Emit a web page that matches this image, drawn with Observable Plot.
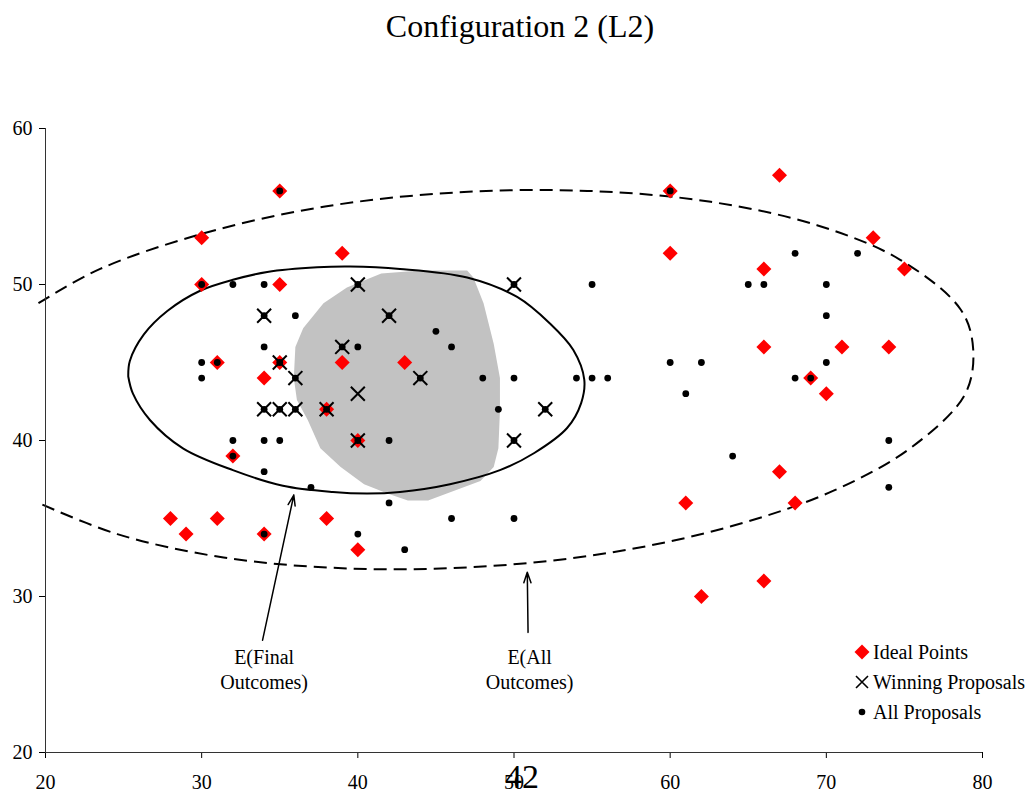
<!DOCTYPE html>
<html><head><meta charset="utf-8">
<script src="https://cdn.jsdelivr.net/npm/d3@7"></script>
<script src="https://cdn.jsdelivr.net/npm/@observablehq/plot@0.6"></script>
<style>
html,body{margin:0;padding:0;overflow:hidden;background:#fff;}
#wrap{position:relative;width:1032px;height:794px;font-family:"Liberation Serif","Times New Roman",serif;color:#000;}
#wrap svg.chart{position:absolute;left:0;top:0;}
#title{position:absolute;left:0;top:10px;width:1040px;text-align:center;font-size:32px;line-height:1;}
.lg-sym{position:absolute;width:20px;height:20px;}
.lg-txt{position:absolute;font-size:20px;line-height:20px;white-space:nowrap;}
#page{position:absolute;left:0;width:1044px;text-align:center;top:760px;font-size:34px;line-height:1;}
</style>
</head><body>
<div id="wrap"></div>
<script>
const title = "Configuration 2 (L2)";
const xTicks = [20, 30, 40, 50, 60, 70, 80];
const yTicks = [20, 30, 40, 50, 60];
const legendLabels = ["Ideal Points", "Winning Proposals", "All Proposals"];
const pageNumber = "42";

const idealPoints = [
  [35,56],[30,53],[39,52],[30,50],[35,50],[31,45],[35,45],[39,45],[43,45],[34,44],
  [38,42],[40,40],[32,39],[28,35],[29,34],[31,35],[34,34],[38,35],[40,33],
  [60,56],[67,57],[60,52],[73,53],[66,51],[75,51],[66,46],[71,46],[74,46],[69,44],
  [70,43],[67,38],[61,36],[68,36],[66,31],[62,30]
];
const winningProposals = [
  [40,50],[50,50],[34,48],[42,48],[39,46],[35,45],[36,44],[44,44],[40,43],
  [34,42],[35,42],[36,42],[38,42],[52,42],[40,40],[50,40]
];
const allProposals = [
  [35,56],[30,50],[32,50],[34,50],[40,50],[50,50],[55,50],
  [34,48],[36,48],[42,48],[34,46],[39,46],[40,46],[45,47],[46,46],
  [30,45],[31,45],[35,45],[30,44],[36,44],[44,44],[48,44],[50,44],[54,44],[55,44],[56,44],
  [34,42],[35,42],[36,42],[38,42],[49,42],[52,42],
  [32,40],[34,40],[35,40],[40,40],[42,40],[50,40],[32,39],
  [34,38],[37,37],[42,36],[34,34],[40,34],[46,35],[50,35],[43,33],
  [60,56],[68,52],[72,52],[65,50],[66,50],[70,50],[70,48],[60,45],[62,45],[70,45],
  [68,44],[69,44],[61,43],[64,39],[74,40],[74,37]
];
const finalOutcomesEllipse = [
  [25.3,44.1],[25.4,45.1],[26.3,46.8],[27.8,48.3],[29.9,49.6],[32.0,50.3],[34.2,50.8],
  [37.4,51.1],[39.5,51.15],[42.7,51.0],[47.0,50.45],[50.2,49.2],[52.3,47.5],[53.8,45.8],
  [54.5,43.9],[54.3,42.4],[53.4,40.8],[51.3,39.2],[49.1,38.1],[45.9,37.2],[42.7,36.7],
  [40.6,36.6],[38.4,36.7],[35.2,37.1],[32.0,38.1],[28.8,39.5],[26.7,41.3],[25.6,43.0],[25.3,44.1]
];
const allOutcomesEllipse = [
  [19.55,48.8],[23.5,51.0],[30.2,53.3],[37.9,55.0],[46.3,55.9],[54.7,56.0],[62.6,55.3],
  [69.4,53.8],[74.7,51.6],[78.6,48.4],[79.4,45.9],[78.9,43.0],[75.5,39.6],[70.5,36.8],
  [63.9,34.5],[56.1,32.8],[47.7,31.9],[39.3,31.8],[31.4,32.5],[24.6,34.0],[19.55,36.0]
];
const finalOutcomesRegion = [
  [37.8,48.8],[39.3,49.8],[41.5,50.7],[44.0,50.9],[47.0,50.9],[47.4,50.45],[48.05,48.8],
  [48.7,46.2],[49.1,44.0],[49.1,41.9],[49.0,39.5],[48.7,38.3],[47.85,37.4],[45.7,36.6],
  [44.5,36.15],[43.2,36.15],[41.9,36.6],[40.4,37.2],[38.9,38.3],[37.6,39.5],[36.8,41.3],
  [36.1,42.6],[35.9,44.0],[36.0,46.0],[36.5,47.2]
];
const arrowFrom = [[33.9,27.2],[50.9,27.7]];
const arrowTo = [[35.9,36.5],[50.85,31.55]];
const annotationText = ["E(Final\nOutcomes)", "E(All\nOutcomes)"];
const annotationPos = [[34,25.4],[51,25.4]];

const arrows = arrowFrom.map((f,i)=>({x1:f[0],y1:f[1],x2:arrowTo[i][0],y2:arrowTo[i][1]}));
const notes = annotationText.map((t,i)=>({text:t,x:annotationPos[i][0],y:annotationPos[i][1]}));
const X = d=>d[0], Y = d=>d[1];

const chart = Plot.plot({
  width:1032, height:794, marginTop:128, marginLeft:45, marginRight:50, marginBottom:42,
  style:{fontFamily:'"Liberation Serif","Times New Roman",serif', fontSize:"20px", color:"#000", background:"#fff", overflow:"visible"},
  x:{domain:[20,80], ticks:xTicks, tickSize:6, tickPadding:16, label:null},
  y:{domain:[20,60], ticks:yTicks, tickSize:6, tickPadding:7, label:null},
  marks:[
    Plot.line(finalOutcomesRegion,{x:X,y:Y,fill:"#c2c2c2",stroke:"none",curve:"linear-closed"}),
    Plot.line(allOutcomesEllipse,{x:X,y:Y,stroke:"#000",strokeWidth:2,strokeDasharray:"13,7",strokeLinecap:"butt",curve:"catmull-rom"}),
    Plot.line(finalOutcomesEllipse,{x:X,y:Y,stroke:"#000",strokeWidth:2,curve:"catmull-rom"}),
    Plot.ruleX([20],{stroke:"#333"}),
    Plot.ruleY([20],{stroke:"#333"}),
    Plot.arrow(arrows,{x1:"x1",y1:"y1",x2:"x2",y2:"y2",stroke:"#000",strokeWidth:1.5,headLength:11,headAngle:38,ariaLabel:"arrowlink"}),
    Plot.text(notes,{x:"x",y:"y",text:"text",fontSize:20,lineHeight:1.25,fill:"#000"}),
    Plot.dot(idealPoints,{x:X,y:Y,symbol:"diamond2",r:6.76,fill:"#ff0000",stroke:"none"}),
    Plot.dot(winningProposals,{x:X,y:Y,symbol:"times",r:6.4,stroke:"#000",strokeWidth:2,fill:"none"}),
    Plot.dot(allProposals,{x:X,y:Y,r:3.4,fill:"#000",stroke:"none"})
  ]
});
chart.classList.add("chart");
// fill the arrow heads (the head wings form a closed sub-path)
d3.select(chart).selectAll('g[aria-label="arrowlink"] path').attr("fill","#000").attr("stroke-linejoin","miter");

const wrap = document.getElementById("wrap");
wrap.appendChild(chart);

const t = document.createElement("div");
t.id = "title"; t.textContent = title; wrap.appendChild(t);

const legendCenters = [652, 682, 712];
const symSvg = [
  '<svg class="lg-sym" viewBox="0 0 20 20"><polygon points="10,2.5 17.5,10 10,17.5 2.5,10" fill="#ff0000"/></svg>',
  '<svg class="lg-sym" viewBox="0 0 20 20"><path d="M4,4L16,16M16,4L4,16" stroke="#000" stroke-width="1.6"/></svg>',
  '<svg class="lg-sym" viewBox="0 0 20 20"><circle cx="10" cy="10" r="3.3" fill="#000"/></svg>'
];
legendLabels.forEach((lab,i)=>{
  const s = document.createElement("div");
  s.innerHTML = symSvg[i];
  const el = s.firstChild;
  el.style.left = "852px"; el.style.top = (legendCenters[i]-10)+"px";
  wrap.appendChild(el);
  const tx = document.createElement("div");
  tx.className = "lg-txt"; tx.textContent = lab;
  tx.style.left = "873px"; tx.style.top = (legendCenters[i]-10)+"px";
  wrap.appendChild(tx);
});

const p = document.createElement("div");
p.id = "page"; p.textContent = pageNumber; wrap.appendChild(p);
</script>
</body></html>
